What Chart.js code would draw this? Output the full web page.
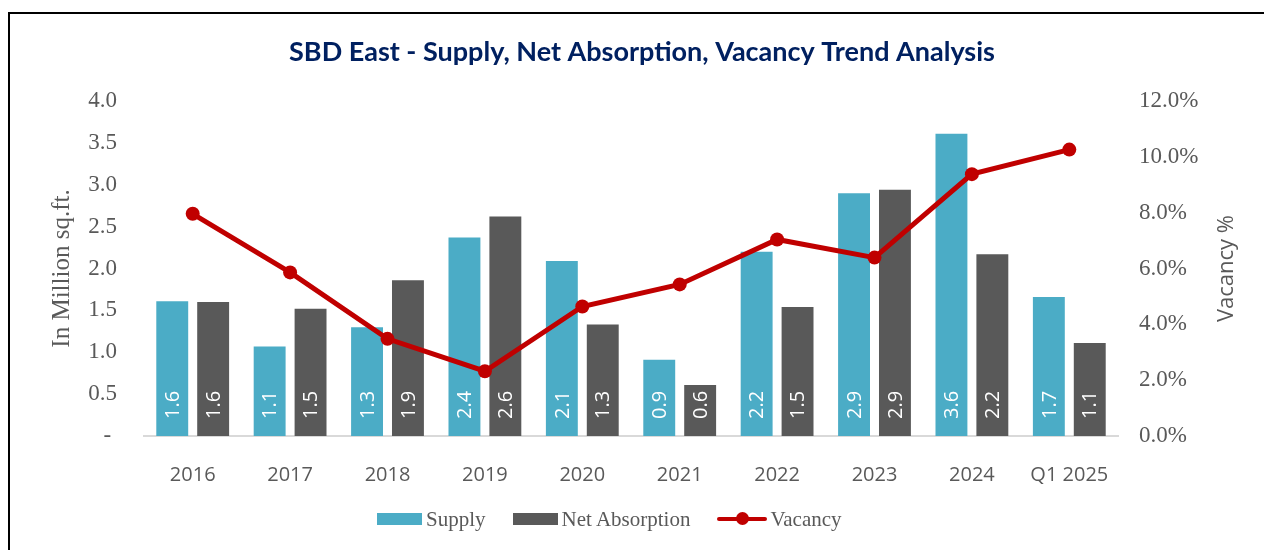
<!DOCTYPE html>
<html>
<head>
<meta charset="utf-8">
<script src="https://cdn.jsdelivr.net/npm/chart.js@4.4.1/dist/chart.umd.min.js"></script>
<style>
    html, body { margin: 0; padding: 0; background: #fff; overflow: hidden; width: 1264px; height: 550px; }
    #frame { position: absolute; left: 8px; top: 12px; width: 1400px; height: 700px; border: 2px solid #000; box-sizing: border-box; }
    #chartCanvas { position: absolute; left: 0; top: 0; }
    #legend { position: absolute; left: 377px; top: 507px; height: 24px; display: flex; align-items: center;
              font-family: 'Liberation Serif', 'Times New Roman', serif; font-size: 21px; color: #595959; }
    .item { display: flex; align-items: center; margin-right: 27px; }
    .box { width: 45px; height: 12px; margin-right: 4px; }
    .lineKey { position: relative; width: 50px; height: 14px; margin-right: 3px; }
    .lineKey .bar { position: absolute; left: 0; right: 0; top: 5px; height: 4px; background: #C00000; border-radius: 2px; }
    .lineKey .dot { position: absolute; left: 19px; top: 0; width: 13px; height: 13px; border-radius: 50%; background: #C00000; }
</style>
</head>
<body>
<div id="frame"></div>
<canvas id="chartCanvas" width="1284" height="550"></canvas>
<div id="legend"></div>
<script>
const categories = ['2016', '2017', '2018', '2019', '2020', '2021', '2022', '2023', '2024', 'Q1 2025'];
const supply = [1.61, 1.07, 1.30, 2.37, 2.09, 0.91, 2.20, 2.90, 3.61, 1.66];
const netAbsorption = [1.60, 1.52, 1.86, 2.62, 1.33, 0.61, 1.54, 2.94, 2.17, 1.11];
const vacancy = [7.96, 5.86, 3.48, 2.32, 4.64, 5.43, 7.04, 6.39, 9.38, 10.26];

const SUPPLY_COLOR = '#4BACC6';
const NET_COLOR = '#595959';
const VACANCY_COLOR = '#C00000';
const TEXT_GRAY = '#595959';

// 막대 안쪽 세로 라벨
const barLabelPlugin = {
    id: 'barLabels',
    afterDatasetsDraw(chart) {
        const ctx = chart.ctx;
        chart.data.datasets.forEach((ds, i) => {
            if (ds.type === 'line') return;
            const meta = chart.getDatasetMeta(i);
            meta.data.forEach((bar, j) => {
                ctx.save();
                ctx.translate(bar.x, bar.base - 17);
                ctx.rotate(-Math.PI / 2);
                ctx.fillStyle = '#ffffff';
                ctx.font = '20px "Open Sans", sans-serif';
                ctx.textAlign = 'left';
                ctx.textBaseline = 'middle';
                ctx.fillText(ds.data[j].toFixed(1), 0, 1);
                ctx.restore();
            });
        });
    }
};

// 오른쪽 축 제목 (아래에서 위로 읽힘)
const rightTitlePlugin = {
    id: 'rightTitle',
    afterDraw(chart) {
        const ctx = chart.ctx;
        const area = chart.chartArea;
        ctx.save();
        ctx.translate(1227, (area.top + area.bottom) / 2);
        ctx.rotate(-Math.PI / 2);
        ctx.fillStyle = TEXT_GRAY;
        ctx.font = '22px "Open Sans", sans-serif';
        ctx.textAlign = 'center';
        ctx.textBaseline = 'middle';
        ctx.fillText('Vacancy %', 0, 0);
        ctx.restore();
    }
};

const chart_data = {
    labels: categories,
    datasets: [
        {
            type: 'line',
            label: 'Vacancy',
            data: vacancy,
            yAxisID: 'y1',
            borderColor: VACANCY_COLOR,
            backgroundColor: VACANCY_COLOR,
            borderWidth: 5,
            pointRadius: 7,
            pointHoverRadius: 7,
            pointBackgroundColor: VACANCY_COLOR,
            pointBorderWidth: 0,
            order: 0
        },
        {
            type: 'bar',
            label: 'Supply',
            data: supply,
            yAxisID: 'y',
            backgroundColor: SUPPLY_COLOR,
            categoryPercentage: 0.84,
            barPercentage: 0.78,
            order: 1
        },
        {
            type: 'bar',
            label: 'Net Absorption',
            data: netAbsorption,
            yAxisID: 'y',
            backgroundColor: NET_COLOR,
            categoryPercentage: 0.84,
            barPercentage: 0.78,
            order: 1
        }
    ]
};

const chart_options = {
    responsive: false,
    animation: false,
    layout: { padding: 0 },
    plugins: {
        legend: { display: false },
        tooltip: { enabled: false },
        title: {
            display: true,
            text: 'SBD East - Supply, Net Absorption, Vacancy Trend Analysis',
            color: '#002060',
            font: { family: 'Lato', size: 27, weight: 'bold', lineHeight: 1.2 },
            padding: { top: 35.8, bottom: 32.8 }
        }
    },
    scales: {
        x: {
            offset: true,
            grid: { display: false },
            border: { display: true, color: '#D9D9D9', width: 2 },
            ticks: {
                color: TEXT_GRAY,
                font: { family: 'Open Sans', size: 20 },
                padding: 19,
                maxRotation: 0
            },
            afterFit(scale) { scale.height = 114; }
        },
        y: {
            position: 'left',
            min: 0,
            max: 4,
            grid: { display: false },
            border: { display: false },
            ticks: {
                stepSize: 0.5,
                color: TEXT_GRAY,
                font: { family: 'Liberation Serif', size: 23 },
                padding: 19,
                callback: v => v === 0 ? '- ' : v.toFixed(1)
            },
            title: {
                display: true,
                text: 'In Million sq.ft.',
                color: TEXT_GRAY,
                font: { family: 'Liberation Serif', size: 25, lineHeight: 1.2 },
                padding: { top: 47, bottom: 0 }
            },
            afterFit(scale) { scale.width = 144; }
        },
        y1: {
            position: 'right',
            min: 0,
            max: 12,
            grid: { display: false },
            border: { display: false },
            ticks: {
                stepSize: 2,
                color: TEXT_GRAY,
                font: { family: 'Liberation Serif', size: 23 },
                padding: 13,
                callback: v => v.toFixed(1) + '%'
            },
            afterFit(scale) { scale.width = 166; }
        }
    }
};

new Chart(document.getElementById('chartCanvas').getContext('2d'), {
    data: chart_data,
    options: chart_options,
    plugins: [barLabelPlugin, rightTitlePlugin]
});

// 범례
const legend = document.getElementById('legend');
[
    { label: 'Supply', color: SUPPLY_COLOR, kind: 'box' },
    { label: 'Net Absorption', color: NET_COLOR, kind: 'box' },
    { label: 'Vacancy', color: VACANCY_COLOR, kind: 'line' }
].forEach(entry => {
    const item = document.createElement('div');
    item.className = 'item';
    const key = document.createElement('div');
    if (entry.kind === 'box') {
        key.className = 'box';
        key.style.background = entry.color;
    } else {
        key.className = 'lineKey';
        key.innerHTML = '<div class="bar"></div><div class="dot"></div>';
    }
    const text = document.createElement('span');
    text.textContent = entry.label;
    item.appendChild(key);
    item.appendChild(text);
    legend.appendChild(item);
});
</script>
</body>
</html>
